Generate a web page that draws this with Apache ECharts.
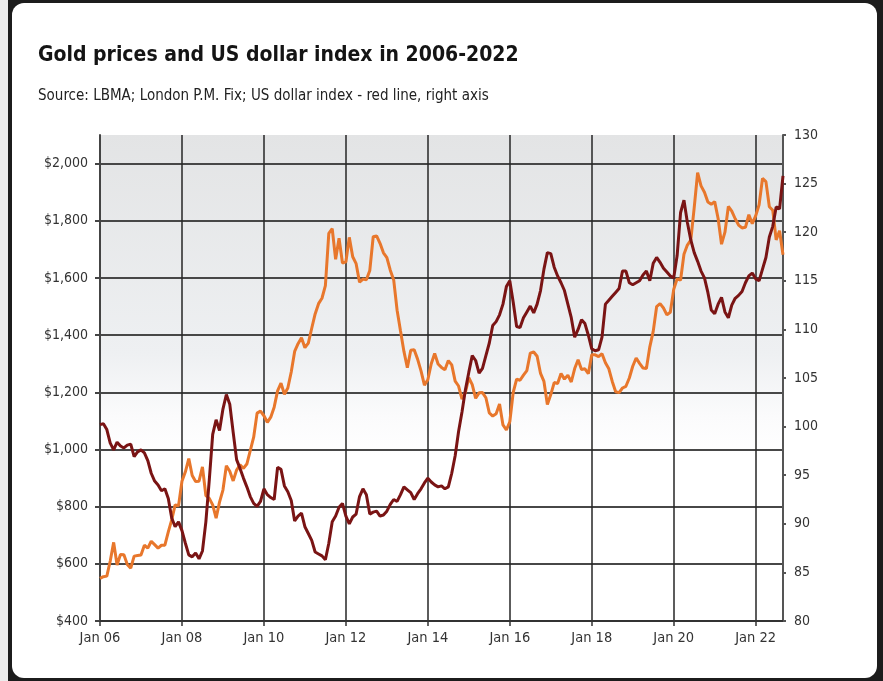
<!DOCTYPE html>
<html>
<head>
<meta charset="utf-8">
<title>Gold prices and US dollar index in 2006-2022</title>
<script src="https://cdn.jsdelivr.net/npm/echarts@6/dist/echarts.min.js"></script>
<style>
html, body { margin: 0; padding: 0; background: #ececec; }
.frame { position: absolute; left: 8px; top: 0; width: 875px; height: 681px; background: #1c1c1c; }
.card { position: absolute; left: 12px; top: 3px; width: 865px; height: 675px; background: #fff; border-radius: 12px; }
#chart { position: absolute; left: 0; top: 0; width: 883px; height: 681px; }
</style>
</head>
<body>
<div class="frame"></div>
<div class="card"></div>
<div id="chart"></div>
<script>
// monthly averages, Jan 2006 - Sep 2022
const titleText = 'Gold prices and US dollar index in 2006-2022'
const subtitleText = 'Source: LBMA; London P.M. Fix; US dollar index - red line, right axis'

const monthNames = ['Jan', 'Feb', 'Mar', 'Apr', 'May', 'Jun', 'Jul', 'Aug', 'Sep', 'Oct', 'Nov', 'Dec']
const startYear = 2006
const endYear = 2022
const endMonth = 9

// gold, $ per ounce (left axis)
const gold = [
  549, 555, 557, 610, 675, 596, 633, 632, 598, 585, 627, 629,
  631, 665, 655, 679, 667, 655, 665, 665, 712, 754, 806, 803,
  889, 922, 968, 909, 888, 889, 939, 839, 829, 806, 760, 816,
  858, 943, 924, 890, 928, 946, 934, 949, 996, 1043, 1127, 1134,
  1118, 1095, 1113, 1148, 1205, 1232, 1193, 1215, 1271, 1343, 1370, 1391,
  1356, 1372, 1424, 1474, 1510, 1529, 1573, 1756, 1772, 1665, 1739, 1652,
  1656, 1742, 1674, 1650, 1585, 1596, 1594, 1626, 1744, 1747, 1721, 1688,
  1671, 1627, 1593, 1487, 1414, 1343, 1286, 1347, 1349, 1316, 1275, 1225,
  1244, 1300, 1336, 1299, 1287, 1279, 1311, 1296, 1239, 1222, 1176, 1200,
  1251, 1227, 1179, 1198, 1199, 1181, 1128, 1117, 1125, 1159, 1086, 1068,
  1097, 1200, 1246, 1242, 1260, 1276, 1337, 1341, 1326, 1266, 1238, 1157,
  1192, 1234, 1231, 1266, 1246, 1260, 1236, 1283, 1314, 1280, 1282, 1265,
  1331, 1331, 1325, 1335, 1303, 1282, 1238, 1202, 1199, 1215, 1221, 1250,
  1291, 1320, 1301, 1285, 1283, 1359, 1413, 1500, 1510, 1495, 1471, 1480,
  1560, 1597, 1592, 1683, 1715, 1732, 1846, 1968, 1922, 1900, 1866, 1858,
  1867, 1808, 1718, 1760, 1850, 1834, 1807, 1785, 1775, 1777, 1821, 1790,
  1817, 1856, 1948, 1937, 1849, 1837, 1733, 1765, 1681
]

// US dollar index (right axis)
const dollar = [
  100.2, 100.3, 99.7, 98.3, 97.6, 98.4, 98.0, 97.8, 98.1, 98.2, 96.9, 97.4,
  97.6, 97.3, 96.5, 95.2, 94.4, 94.0, 93.4, 93.6, 92.6, 90.6, 89.7, 90.2,
  89.3, 88.0, 86.8, 86.6, 87.0, 86.4, 87.2, 90.2, 94.5, 99.2, 100.7, 99.6,
  101.8, 103.3, 102.3, 99.4, 96.6, 95.7, 94.7, 93.8, 92.8, 92.1, 91.8, 92.3,
  93.6, 93.0, 92.7, 92.5, 95.8, 95.6, 93.9, 93.3, 92.4, 90.3, 90.8, 91.1,
  89.7, 89.0, 88.3, 87.1, 86.9, 86.7, 86.3, 88.0, 90.2, 90.8, 91.7, 92.1,
  90.8, 90.0, 90.7, 91.0, 92.8, 93.6, 93.0, 91.0, 91.2, 91.3, 90.8, 90.9,
  91.3, 92.0, 92.5, 92.3, 93.0, 93.8, 93.5, 93.2, 92.5, 93.1, 93.6, 94.2,
  94.7, 94.3, 94.0, 93.8, 93.9, 93.6, 93.8, 95.2, 97.0, 99.5, 101.5, 103.8,
  105.6, 107.3, 106.8, 105.5, 106.0, 107.3, 108.6, 110.4, 110.8, 111.5, 112.6, 114.4,
  115.0, 112.8, 110.3, 110.2, 111.2, 111.8, 112.4, 111.7, 112.6, 114.0, 116.2, 117.9,
  117.8, 116.4, 115.5, 114.8, 114.0, 112.6, 111.2, 109.2, 110.0, 111.0, 110.6, 109.4,
  108.0, 107.8, 107.9, 109.2, 112.6, 113.0, 113.4, 113.8, 114.2, 116.0, 116.0, 114.8,
  114.6, 114.8, 115.0, 115.6, 116.0, 115.0, 116.8, 117.4, 116.9, 116.3, 115.9, 115.5,
  115.3, 117.6, 122.0, 123.3, 121.0, 119.2, 117.9, 117.0, 116.0, 115.3, 113.8, 112.0,
  111.6, 112.6, 113.3, 111.8, 111.2, 112.5, 113.2, 113.5, 113.9, 114.8, 115.5, 115.8,
  115.2, 115.0, 116.2, 117.4, 119.5, 120.6, 122.6, 122.4, 125.8
]

const goldTicks = [400, 600, 800, 1000, 1200, 1400, 1600, 1800, 2000]

// category labels like 'Jan 06'
const months = []
for (let y = startYear; y <= endYear; y++) {
  for (let m = 0; m < 12; m++) {
    if (y === endYear && m >= endMonth) break
    months.push(monthNames[m] + ' ' + String(y).slice(2))
  }
}

const FONT = '"Liberation Sans Narrow", "DejaVu Sans Condensed", sans-serif'
const everyTwoYears = (idx) => idx % 24 === 0

const chart = echarts.init(document.getElementById('chart'))
chart.setOption({
  backgroundColor: 'transparent',
  animation: false,
  textStyle: { fontFamily: FONT },
  title: [
    {
      text: titleText,
      left: 33,
      top: 40,
      textStyle: { fontSize: 21, fontWeight: 'bold', color: '#141414', fontFamily: FONT }
    },
    {
      text: subtitleText,
      left: 33,
      top: 84,
      textStyle: { fontSize: 15, fontWeight: 'normal', color: '#222', fontFamily: FONT }
    }
  ],
  grid: {
    left: 100,
    right: 100,
    top: 135,
    bottom: 60,
    show: true,
    borderWidth: 0,
    backgroundColor: new echarts.graphic.LinearGradient(0, 0, 0, 1, [
      { offset: 0, color: '#e3e4e5' },
      { offset: 0.45, color: '#eef0f2' },
      { offset: 0.58, color: '#fbfbfc' },
      { offset: 0.66, color: '#ffffff' },
      { offset: 1, color: '#ffffff' }
    ])
  },
  xAxis: {
    type: 'category',
    data: months,
    boundaryGap: false,
    axisLine: { lineStyle: { color: '#333', width: 2 } },
    axisTick: { interval: everyTwoYears, length: 5, lineStyle: { color: '#333', width: 1.5 } },
    axisLabel: { interval: everyTwoYears, fontSize: 14.5, color: '#333', margin: 10, fontFamily: FONT },
    splitLine: { show: true, interval: everyTwoYears, lineStyle: { color: '#262626', width: 1.5 } }
  },
  yAxis: [
    {
      type: 'value',
      position: 'left',
      min: 400,
      max: 2100,
      interval: 200,
      axisLine: { show: true, lineStyle: { color: '#444', width: 2 } },
      axisTick: { show: true, length: 5, customValues: goldTicks, lineStyle: { color: '#444', width: 2 } },
      axisLabel: {
        customValues: goldTicks,
        fontSize: 14,
        color: '#333',
        margin: 12,
        fontFamily: FONT,
        formatter: (v) => '$' + v.toLocaleString('en-US')
      },
      splitLine: { show: true, lineStyle: { color: '#474747', width: 2 } }
    },
    {
      type: 'value',
      position: 'right',
      min: 80,
      max: 130,
      interval: 5,
      axisLine: { show: true, lineStyle: { color: '#555', width: 2 } },
      axisTick: { show: true, length: 3, lineStyle: { color: '#555', width: 2 } },
      axisLabel: { fontSize: 14, color: '#333', margin: 11, fontFamily: FONT },
      splitLine: { show: false }
    }
  ],
  series: [
    {
      name: 'Gold',
      type: 'line',
      yAxisIndex: 0,
      data: gold,
      showSymbol: false,
      lineStyle: { color: '#e8772c', width: 3 },
      itemStyle: { color: '#e8772c' },
      z: 3
    },
    {
      name: 'US dollar index',
      type: 'line',
      yAxisIndex: 1,
      data: dollar,
      showSymbol: false,
      lineStyle: { color: '#7a1414', width: 3 },
      itemStyle: { color: '#7a1414' },
      z: 4
    }
  ]
})
</script>
</body>
</html>
